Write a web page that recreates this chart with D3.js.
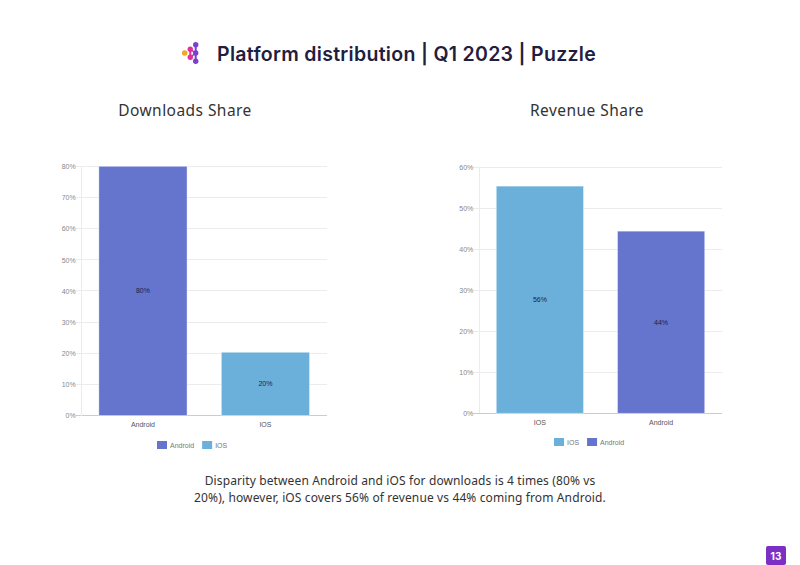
<!DOCTYPE html>
<html><head><meta charset="utf-8">
<script src="https://cdn.jsdelivr.net/npm/d3@7"></script>
<style>body{margin:0;background:#fff;}svg{display:block;}</style>
</head><body>
<svg id="c" width="800" height="565"></svg>
<script>
const downloadsCategories = ["Android", "IOS"];
const downloadsValues = [80, 20.3];
const downloadsLabels = ["80%", "20%"];
const downloadsTicks = [0, 10, 20, 30, 40, 50, 60, 70, 80];
const revenueCategories = ["IOS", "Android"];
const revenueValues = [55.5, 44.5];
const revenueLabels = ["56%", "44%"];
const revenueTicks = [0, 10, 20, 30, 40, 50, 60];
const colors = {Android: "#6574cd", IOS: "#6ab0da"};

const svg = d3.select("#c");
const font = "'Liberation Sans', Arial, sans-serif";

// logo
const logo = svg.append("g");
logo.append("line").attr("x1",190.3).attr("y1",49.3).attr("x2",190.3).attr("y2",57.3).attr("stroke","#e0309a").attr("stroke-width",2);
logo.append("line").attr("x1",195.7).attr("y1",44.7).attr("x2",195.7).attr("y2",61.3).attr("stroke","#7b3fd0").attr("stroke-width",2);
logo.append("line").attr("x1",190.3).attr("y1",49.3).attr("x2",195.7).attr("y2",53).attr("stroke","#a63ab8").attr("stroke-width",1.5);
logo.append("line").attr("x1",190.3).attr("y1",57.3).attr("x2",195.7).attr("y2",53).attr("stroke","#a63ab8").attr("stroke-width",1.5);
logo.append("circle").attr("cx",184.7).attr("cy",53).attr("r",2.8).attr("fill","#f5a623");
logo.append("circle").attr("cx",190.3).attr("cy",49.3).attr("r",2.7).attr("fill","#e0309a");
logo.append("circle").attr("cx",190.3).attr("cy",57.3).attr("r",2.7).attr("fill","#e0309a");
[44.7,53,61.3].forEach(y=>logo.append("circle").attr("cx",195.7).attr("cy",y).attr("r",2.7).attr("fill","#7b3fd0"));

svg.append("text").attr("x",217).attr("y",61).attr("font-family","Inter, 'Noto Sans', sans-serif")
  .attr("font-weight",600).attr("font-size",19.5).attr("letter-spacing",0.3).attr("fill","#1f2040").text("Platform distribution | Q1 2023 | Puzzle");

svg.append("text").attr("x",185).attr("y",116).attr("text-anchor","middle").attr("font-family","'Noto Sans', sans-serif")
  .attr("font-size",15.5).attr("letter-spacing",0.45).attr("fill","#333").text("Downloads Share");
svg.append("text").attr("x",587).attr("y",116).attr("text-anchor","middle").attr("font-family","'Noto Sans', sans-serif")
  .attr("font-size",15.5).attr("letter-spacing",0.45).attr("fill","#333").text("Revenue Share");

function chart(cfg){
  const {cats, vals, labels, ticks, x0, x1, y0, y1, max, legendX, legendY} = cfg;
  const g = svg.append("g");
  const x = d3.scaleBand().domain(cats).range([x0, x1]).paddingInner(0.28).paddingOuter(0.14);
  const y = d3.scaleLinear().domain([0, max]).range([y0, y1]);
  g.selectAll(".grid").data(ticks).join("line")
    .attr("x1", x0-6).attr("x2", x1).attr("y1", d=>y(d)).attr("y2", d=>y(d))
    .attr("stroke", d=>d===0?"#ccc":"#ececec").attr("stroke-width",1).attr("shape-rendering","crispEdges");
  g.append("line").attr("x1",x0).attr("x2",x0).attr("y1",y1).attr("y2",y0).attr("stroke","#ececec").attr("shape-rendering","crispEdges");
  const ya = d3.axisLeft(y).tickValues(ticks).tickFormat(d=>d+"%").tickSize(0).tickPadding(6);
  const yg = g.append("g").attr("transform",`translate(${x0},0)`).call(ya);
  yg.select(".domain").remove();
  yg.selectAll("text").attr("font-family",font).attr("font-size",7).attr("fill","#888");
  g.selectAll(".bar").data(cats).join("rect")
    .attr("x", d=>x(d)).attr("width", x.bandwidth())
    .attr("y", (d,i)=>y(vals[i])).attr("height", (d,i)=>y0 - y(vals[i]))
    .attr("fill", d=>colors[d]).attr("stroke","#fff").attr("stroke-opacity",0.5).attr("stroke-width",0.8);
  g.selectAll(".lbl").data(cats).join("text")
    .attr("x", d=>x(d)+x.bandwidth()/2).attr("y", (d,i)=>(y(vals[i])+y0)/2+2.5)
    .attr("text-anchor","middle").attr("font-family",font).attr("font-size",7).attr("fill","#1a1f4a")
    .text((d,i)=>labels[i]);
  const xa = d3.axisBottom(x).tickSize(0).tickPadding(7);
  const xg = g.append("g").attr("transform",`translate(0,${y0})`).call(xa);
  xg.select(".domain").remove();
  xg.selectAll("text").attr("font-family",font).attr("font-size",7).attr("fill","#555");
  let lx = legendX;
  cats.forEach(c=>{
    g.append("rect").attr("x",lx).attr("y",legendY-4).attr("width",10).attr("height",8).attr("fill",colors[c]);
    const t = g.append("text").attr("x",lx+13).attr("y",legendY+2.5).attr("font-family",font).attr("font-size",7).attr("fill","#777").text(c);
    lx += 13 + t.node().getComputedTextLength() + 8;
  });
}

chart({cats:downloadsCategories, vals:downloadsValues, labels:downloadsLabels, ticks:downloadsTicks,
  x0:81.7, x1:326.7, y0:415.5, y1:166.3, max:80, legendX:157, legendY:445});
chart({cats:revenueCategories, vals:revenueValues, labels:revenueLabels, ticks:revenueTicks,
  x0:479.3, x1:721.7, y0:413.3, y1:167.7, max:60, legendX:554, legendY:442});

const cap = svg.append("text").attr("text-anchor","middle").attr("font-family","'Noto Sans', sans-serif").attr("font-size",12).attr("letter-spacing",0.12).attr("fill","#333");
cap.append("tspan").attr("x",400).attr("y",485).text("Disparity between Android and iOS for downloads is 4 times (80% vs");
cap.append("tspan").attr("x",400).attr("y",502).text("20%), however, iOS covers 56% of revenue vs 44% coming from Android.");

svg.append("rect").attr("x",766).attr("y",546).attr("width",20).attr("height",19).attr("rx",2).attr("fill","#7d2fc4");
svg.append("text").attr("x",776).attr("y",560).attr("text-anchor","middle").attr("font-family","Inter, sans-serif")
  .attr("font-weight",700).attr("font-size",10).attr("fill","#fff").text("13");
</script>
</body></html>
